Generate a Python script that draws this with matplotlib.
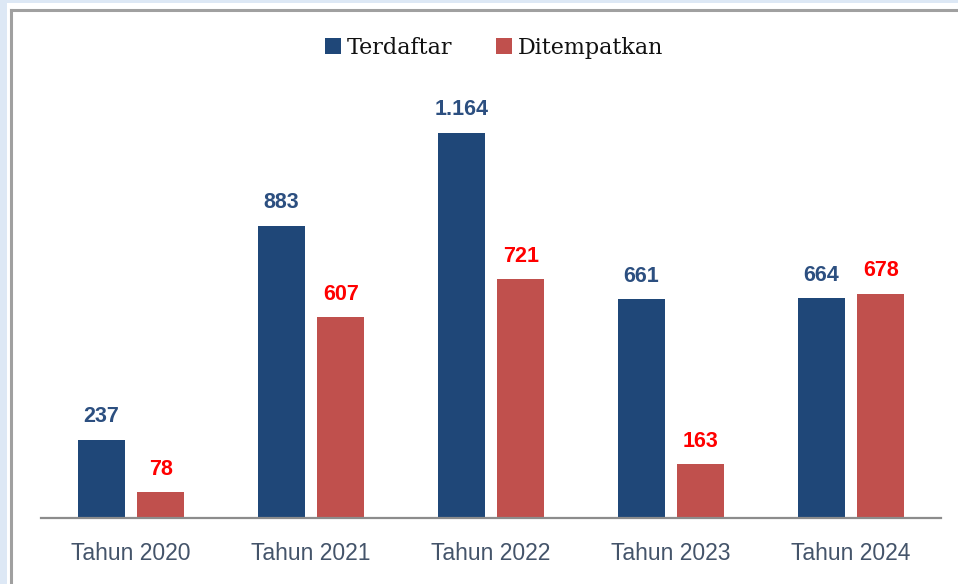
import matplotlib.pyplot as plt
import numpy as np
from matplotlib.patches import Rectangle
from matplotlib.lines import Line2D

years = ['Tahun 2020', 'Tahun 2021', 'Tahun 2022', 'Tahun 2023', 'Tahun 2024']
terdaftar = [237, 883, 1164, 661, 664]
ditempatkan = [78, 607, 721, 163, 678]

blue = '#1f4778'
red = '#c0504d'

W, H = 958, 584
fig = plt.figure(figsize=(W / 100, H / 100), dpi=100)
fig.patch.set_facecolor('#dde8f5')

# white chart area with grey frame
fig.patches.append(Rectangle((7 / W, 0), 1, (H - 3) / H, transform=fig.transFigure,
                             fc='white', ec='none', zorder=-2))
fig.lines.append(Line2D([11 / W, 11 / W], [0, (H - 10) / H], transform=fig.transFigure,
                        color='#a0a0a0', lw=2.2))
fig.lines.append(Line2D([11 / W, 1], [(H - 10) / H, (H - 10) / H], transform=fig.transFigure,
                        color='#a0a0a0', lw=2.2))

ax = fig.add_axes([41 / W, (H - 518) / H, 900 / W, (518 - 80) / H])
ax.set_facecolor('none')

x = np.arange(len(years))
w = 0.26
b1 = ax.bar(x - 0.165, terdaftar, w, color=blue, label='Terdaftar')
b2 = ax.bar(x + 0.165, ditempatkan, w, color=red, label='Ditempatkan')


def fmt(v):
    return f'{v:,}'.replace(',', '.')


for rect, v in zip(b1, terdaftar):
    ax.annotate(fmt(v), (rect.get_x() + rect.get_width() / 2, v), xytext=(0, 9),
                textcoords='offset points', ha='center', va='bottom',
                fontsize=15.5, fontweight='bold', color='#2c4f80', family='Liberation Sans')
for rect, v in zip(b2, ditempatkan):
    ax.annotate(fmt(v), (rect.get_x() + rect.get_width() / 2, v), xytext=(0, 9),
                textcoords='offset points', ha='center', va='bottom',
                fontsize=15.5, fontweight='bold', color='#ff0000', family='Liberation Sans')

ax.set_xlim(-0.5, 4.5)
ax.set_ylim(0, 1324)
ax.set_yticks([])
ax.set_xticks(x)
ax.set_xticklabels(years, fontsize=16.5, color='#44546a', family='Liberation Sans')
ax.tick_params(axis='x', length=0, pad=17)
for s in ['top', 'left', 'right']:
    ax.spines[s].set_visible(False)
ax.spines['bottom'].set_color('#8c8c8c')
ax.spines['bottom'].set_linewidth(1.6)

fig.legend(handles=[b1, b2], loc='center', bbox_to_anchor=(494 / W, (H - 48) / H),
           ncol=2, frameon=False, handlelength=0.7, handleheight=0.7,
           handletextpad=0.25, columnspacing=2.0,
           prop={'family': 'DejaVu Serif', 'size': 16})
for t in fig.legends[0].get_texts():
    t.set_color('#111111')

fig.savefig('out.png', dpi=100, facecolor=fig.get_facecolor())
